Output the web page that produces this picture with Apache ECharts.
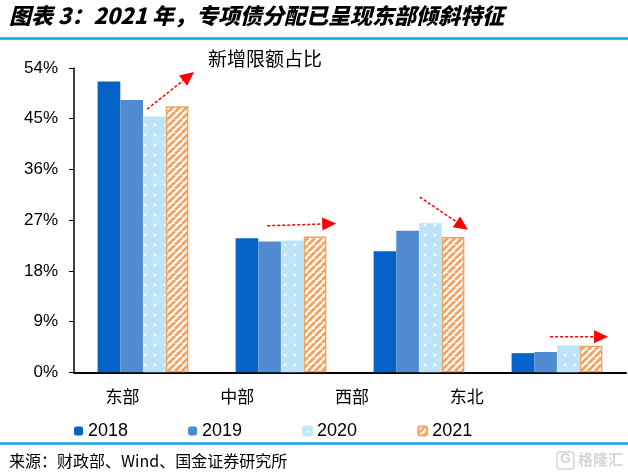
<!DOCTYPE html>
<html><head><meta charset="utf-8">
<script src="https://cdn.jsdelivr.net/npm/echarts@6/dist/echarts.min.js"></script>
<style>html,body{margin:0;padding:0;background:#fff}#c{width:628px;height:475px}</style>
</head><body><div id="c"></div>
<script>
const categories = ['东部', '中部', '西部', '东北'];
const years = ['2018', '2019', '2020', '2021'];
const v2018 = [51.6, 23.8, 21.5, 3.4];
const v2019 = [48.3, 23.2, 25.1, 3.6];
const v2020 = [45.4, 23.4, 26.5, 4.8];
const v2021 = [47.2, 24.1, 24.0, 4.7];
const yMin = 0, yMax = 54, yStep = 9;
// trend arrows: [category index, start offset (bands), start value, end offset (bands), end value]
const arrows = [
  [0, 0.03, 46.7, 0.37, 53.3],
  [1, -0.10, 26.0, 0.40, 26.4],
  [2, 0.005, 31.1, 0.355, 25.3],
  [3, -0.05, 6.3, 0.37, 6.3]
];

function dotPattern() {
  const c = document.createElement('canvas'); c.width = 10; c.height = 10;
  const g = c.getContext('2d');
  g.fillStyle = '#BEE4F8'; g.fillRect(0, 0, 10, 10);
  g.fillStyle = 'rgba(255,255,255,0.95)';
  g.beginPath(); g.arc(5, 5, 1.3, 0, Math.PI * 2); g.fill();
  return c;
}
function hatchPattern() {
  const s = 7;
  const c = document.createElement('canvas'); c.width = s; c.height = s;
  const g = c.getContext('2d');
  g.fillStyle = '#ffffff'; g.fillRect(0, 0, s, s);
  g.strokeStyle = '#F5A25E'; g.lineWidth = 2.8;
  g.beginPath();
  for (let k = -1; k <= 1; k++) { g.moveTo(k * s, s); g.lineTo(k * s + s, 0); }
  g.stroke();
  return c;
}

const chart = echarts.init(document.getElementById('c'), null, { renderer: 'canvas' });
const sansCJK = '"Noto Sans CJK SC", sans-serif';
const arial = '"Liberation Sans", Arial, sans-serif';

const barW = 22.7;
function bar(name, data, itemStyle) {
  return { name, type: 'bar', data, barWidth: barW, barGap: '0%', itemStyle, xAxisIndex: 0, yAxisIndex: 0 };
}

chart.setOption({
  animation: false,
  backgroundColor: '#fff',
  title: [
    { text: '图表 3：2021 年，专项债分配已呈现东部倾斜特征', left: 4, top: 0,
      textStyle: { fontSize: 22, fontWeight: 900, fontStyle: 'italic', color: '#000', fontFamily: sansCJK } },
    { text: '新增限额占比', left: 203, top: 44,
      textStyle: { fontSize: 19, fontWeight: 'normal', color: '#000', fontFamily: sansCJK } },
    { text: '来源：财政部、Wind、国金证券研究所', left: 4, top: 448,
      textStyle: { fontSize: 16, fontWeight: 'normal', color: '#000', fontFamily: sansCJK } }
  ],
  legend: {
    data: years, left: 69, top: 417, itemWidth: 9, itemHeight: 9, itemGap: 60,
    textStyle: { fontSize: 18, color: '#000', fontFamily: arial }
  },
  grid: [
    { left: 74, top: 68, width: 552, height: 304.3 },
    { left: 65, top: 68, width: 459, height: 304.3 }
  ],
  xAxis: [
    { type: 'category', gridIndex: 0, data: categories,
      axisLine: { lineStyle: { color: '#000', width: 2 } }, axisTick: { show: false }, axisLabel: { show: false } },
    { type: 'category', gridIndex: 1, data: categories,
      axisLine: { show: false }, axisTick: { show: false },
      axisLabel: { margin: 16, fontSize: 17, color: '#000', fontFamily: sansCJK } }
  ],
  yAxis: [
    { type: 'value', gridIndex: 0, min: yMin, max: yMax, interval: yStep,
      axisLine: { show: true, lineStyle: { color: '#000', width: 1.5 } },
      axisTick: { show: true, length: 5, lineStyle: { color: '#000' } },
      splitLine: { show: false },
      axisLabel: { formatter: '{value}%', fontSize: 17, color: '#000', fontFamily: arial, margin: 16 } },
    { type: 'value', gridIndex: 1, show: false, min: 0, max: 1 }
  ],
  series: [
    bar('2018', v2018, { color: '#0563C8' }),
    bar('2019', v2019, { color: '#508AD0' }),
    bar('2020', v2020, { color: { image: dotPattern(), repeat: 'repeat' }, borderColor: '#C8E8FA', borderWidth: 0.5 }),
    bar('2021', v2021, { color: { image: hatchPattern(), repeat: 'repeat' }, borderColor: '#F4A460', borderWidth: 1.5 })
  ],
  graphic: { elements: [
    { id: 'topline', type: 'line', shape: { x1: 0, y1: 38.5, x2: 628, y2: 38.5 }, style: { stroke: '#12A3E3', lineWidth: 2.5 }, silent: true },
    { id: 'botline', type: 'line', shape: { x1: 0, y1: 443.5, x2: 628, y2: 443.5 }, style: { stroke: '#12A3E3', lineWidth: 2.5 }, silent: true },
    { id: 'wmbox', type: 'rect', shape: { x: 557, y: 452, width: 17, height: 17, r: 3 }, style: { fill: 'none', stroke: '#d6d6d6', lineWidth: 1.5 }, silent: true },
    { id: 'wmg', type: 'text', x: 560, y: 452, style: { text: 'G', font: 'bold 14px "Liberation Sans"', fill: '#d6d6d6' }, silent: true },
    { id: 'wmtxt', type: 'text', x: 578, y: 452, style: { text: '格隆汇', font: 'bold 15px "Noto Sans CJK SC"', fill: '#d6d6d6' }, silent: true }
  ] }
});

// arrows positioned through the axes' own scales
const c0 = chart.convertToPixel({ xAxisIndex: 0 }, categories[0]);
const c1 = chart.convertToPixel({ xAxisIndex: 0 }, categories[1]);
const band = c1 - c0;
const els = [];
arrows.forEach((a, i) => {
  const cx = chart.convertToPixel({ xAxisIndex: 0 }, categories[a[0]]);
  const x0 = cx + a[1] * band, y0 = chart.convertToPixel({ yAxisIndex: 0 }, a[2]);
  const x1 = cx + a[3] * band, y1 = chart.convertToPixel({ yAxisIndex: 0 }, a[4]);
  const dx = x1 - x0, dy = y1 - y0, len = Math.hypot(dx, dy);
  const ux = dx / len, uy = dy / len, px = -uy, py = ux;
  const L = 14, W = 13;
  const bx = x1 - ux * L, by = y1 - uy * L;
  els.push({ id: 'al' + i, type: 'line', shape: { x1: x0, y1: y0, x2: bx, y2: by },
    style: { stroke: '#F00', lineWidth: 1.5, lineDash: [3, 2] }, silent: true, z: 10 });
  els.push({ id: 'ah' + i, type: 'polygon', shape: { points: [[x1, y1], [bx + px * W / 2, by + py * W / 2], [bx - px * W / 2, by - py * W / 2]] },
    style: { fill: '#F00' }, silent: true, z: 10 });
});
chart.setOption({ graphic: { elements: els } });
</script>
</body></html>
